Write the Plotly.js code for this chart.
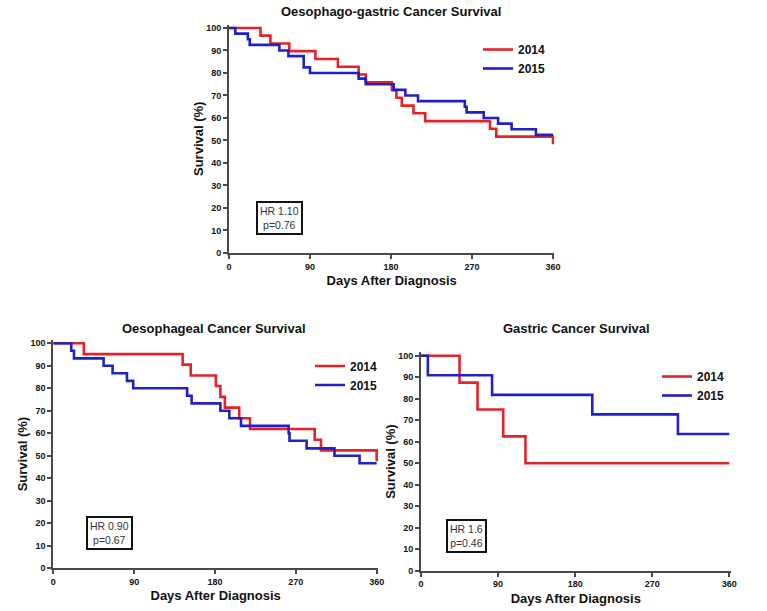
<!DOCTYPE html>
<html>
<head>
<meta charset="utf-8">
<script src="https://cdn.plot.ly/plotly-3.0.1.min.js"></script>
<style>html,body{margin:0;padding:0;background:#fff;}#chart{width:767px;height:611px;}</style>
</head>
<body>
<div id="chart"></div>
<script>
// ---- Data ----
const seriesNames = ["2014", "2015"];
const xTicks = [0, 90, 180, 270, 360];
const yTicks = [0, 10, 20, 30, 40, 50, 60, 70, 80, 90, 100];

// Oesophago-gastric (top)
const ogDays2014 = [0, 35, 46, 67, 96, 121, 144, 152, 181, 186, 192, 205, 218, 290, 297, 360];
const ogSurv2014 = [100, 96.6, 93.1, 89.7, 86.2, 82.8, 79.3, 75.9, 72.4, 69.0, 65.5, 62.1, 58.6, 55.2, 51.7, 48.3];
const ogDays2015 = [0, 7, 21, 23, 56, 66, 83, 90, 144, 152, 183, 196, 210, 262, 264, 283, 299, 314, 341, 360];
const ogSurv2015 = [100, 97.5, 95, 92.5, 90, 87.5, 82.5, 80, 77.5, 75, 72.5, 70, 67.5, 65, 62.5, 60, 57.5, 55, 52.5, 52.5];

// Oesophageal (bottom left)
const oeDays2014 = [0, 34, 144, 153, 181, 186, 191, 207, 219, 291, 298, 360];
const oeSurv2014 = [100, 95.2, 90.5, 85.7, 81.0, 76.2, 71.4, 66.7, 61.9, 57.1, 52.4, 47.6];
const oeDays2015 = [0, 20, 23, 56, 66, 82, 89, 149, 154, 186, 196, 209, 262, 263, 282, 313, 341, 360];
const oeSurv2015 = [100, 96.7, 93.3, 90, 86.7, 83.3, 80, 76.7, 73.3, 70, 66.7, 63.3, 60, 56.7, 53.3, 50, 46.7, 46.7];

// Gastric (bottom right)
const gaDays2014 = [0, 45, 66, 96, 122, 360];
const gaSurv2014 = [100, 87.5, 75, 62.5, 50, 50];
const gaDays2015 = [0, 8, 83, 200, 300, 360];
const gaSurv2015 = [100, 90.9, 81.8, 72.7, 63.6, 63.6];

const panelTitles = ["Oesophago-gastric Cancer Survival", "Oesophageal Cancer Survival", "Gastric Cancer Survival"];
const hrTexts = ["HR 1.10<br>p=0.76", "HR 0.90<br>p=0.67", "HR 1.6<br>p=0.46"];
const hrPos = [[56, 15.4], [63, 15.6], [53, 16]];

// ---- Styling ----
const RED = "#e5222a";
const BLUE = "#2020c8";
const FONT = "Arial, 'Liberation Sans', sans-serif";

function trace(days, surv, name, color, ax, legend, show) {
  return {
    x: days, y: surv, name: name, type: "scatter", mode: "lines",
    line: {shape: "hv", color: color, width: 2.6},
    xaxis: ax[0], yaxis: ax[1], legend: legend, showlegend: show
  };
}

const data = [
  trace(ogDays2014, ogSurv2014, seriesNames[0], RED, ["x", "y"], "legend", true),
  trace(ogDays2015, ogSurv2015, seriesNames[1], BLUE, ["x", "y"], "legend", true),
  trace(oeDays2014, oeSurv2014, seriesNames[0], RED, ["x2", "y2"], "legend2", true),
  trace(oeDays2015, oeSurv2015, seriesNames[1], BLUE, ["x2", "y2"], "legend2", true),
  trace(gaDays2014, gaSurv2014, seriesNames[0], RED, ["x3", "y3"], "legend3", true),
  trace(gaDays2015, gaSurv2015, seriesNames[1], BLUE, ["x3", "y3"], "legend3", true)
];

function xAxis(domain, anchor) {
  return {
    domain: domain, anchor: anchor, range: [0, 361.5],
    tickvals: xTicks, ticktext: xTicks.map(String),
    showgrid: false, zeroline: false, showline: true,
    linecolor: "#4a4a4a", linewidth: 2, ticks: "outside", ticklen: 4, tickwidth: 2, tickcolor: "#4a4a4a",
    tickfont: {family: FONT, size: 9, color: "#111", weight: "bold"},
    title: {text: "<b>Days After Diagnosis</b>", font: {family: FONT, size: 13, color: "#111"}, standoff: 5}
  };
}
function yAxis(domain, anchor) {
  return {
    domain: domain, anchor: anchor, range: [0, 101.5],
    tickvals: yTicks, ticktext: yTicks.map(String),
    showgrid: false, zeroline: false, showline: true,
    linecolor: "#4a4a4a", linewidth: 2, ticks: "outside", ticklen: 4, tickwidth: 2, tickcolor: "#4a4a4a",
    tickfont: {family: FONT, size: 9, color: "#111", weight: "bold"},
    title: {text: "<b>Survival (%)</b>", font: {family: FONT, size: 13, color: "#111"}, standoff: 0}
  };
}
function legend(x, y) {
  return {x: x, y: y, xref: "paper", yref: "paper", xanchor: "left", yanchor: "top",
    bgcolor: "rgba(0,0,0,0)", font: {family: FONT, size: 12, color: "#111", weight: "bold"},
    itemwidth: 30, tracegroupgap: 0, traceorder: "normal"};
}

const annotations = [];
const titlePos = [[391, 12], [214, 328], [576, 328]];
panelTitles.forEach((t, i) => {
  annotations.push({text: "<b>" + t + "</b>", x: titlePos[i][0] / 767, y: 1 - titlePos[i][1] / 611,
    xref: "paper", yref: "paper", showarrow: false, xanchor: "center", yanchor: "middle",
    font: {family: FONT, size: 13, color: "#111"}});
});
const axRefs = [["x", "y"], ["x2", "y2"], ["x3", "y3"]];
hrTexts.forEach((t, i) => {
  annotations.push({text: t, x: hrPos[i][0], y: hrPos[i][1], xref: axRefs[i][0], yref: axRefs[i][1],
    showarrow: false, xanchor: "center", yanchor: "middle", align: "center",
    bordercolor: "#111", borderwidth: 2, borderpad: 2, bgcolor: "#fff",
    font: {family: FONT, size: 10.5, color: "#333"}});
});

const layout = {
  width: 767, height: 611,
  margin: {l: 0, r: 0, t: 0, b: 0},
  paper_bgcolor: "#fff", plot_bgcolor: "#fff",
  font: {family: FONT},
  xaxis: xAxis([0.29857, 0.72275], "y"),
  yaxis: yAxis([0.58592, 0.95974], "x"),
  xaxis2: xAxis([0.06949, 0.49283], "y2"),
  yaxis2: yAxis([0.06989, 0.44370], "x2"),
  xaxis3: xAxis([0.54889, 0.95254], "y3"),
  yaxis3: yAxis([0.06596, 0.42308], "x3"),
  legend: legend(478 / 767, 1 - 35 / 611),
  legend2: legend(310 / 767, 1 - 351.5 / 611),
  legend3: legend(657 / 767, 1 - 362 / 611),
  annotations: annotations,
  showlegend: true
};

Plotly.newPlot("chart", data, layout, {displayModeBar: false, staticPlot: true});
</script>
</body>
</html>
